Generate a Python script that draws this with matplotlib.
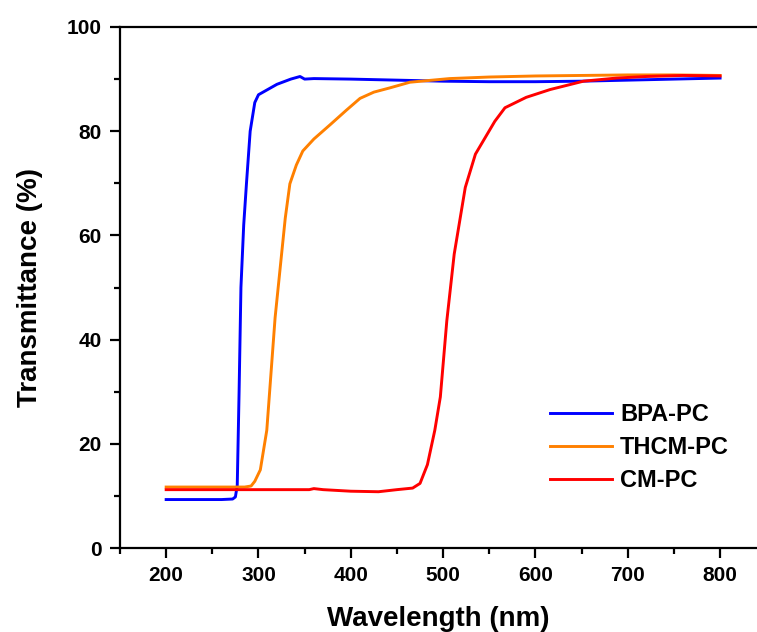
import matplotlib
matplotlib.use('Agg')
import matplotlib.pyplot as plt
from matplotlib.ticker import MultipleLocator

plt.rcParams['font.family'] = ['Liberation Sans', 'DejaVu Sans']
plt.rcParams['font.weight'] = 'bold'
plt.rcParams['axes.labelweight'] = 'bold'

# ---- data ----
bpa_wl = [200, 230, 260, 272, 275, 277, 279, 281, 284, 287, 291, 296, 300, 310, 320,
          335, 345, 350, 360, 400, 450, 500, 550, 600, 650, 700, 750, 800]
bpa_t = [9.3, 9.3, 9.3, 9.4, 9.8, 12.0, 30.0, 50.0, 62.0, 70.0, 80.0, 85.5, 87.0, 88.0, 89.0,
         90.0, 90.5, 90.0, 90.1, 90.0, 89.8, 89.6, 89.5, 89.5, 89.6, 89.8, 90.0, 90.2]

thcm_wl = [200, 250, 285, 292, 296, 302, 309, 318, 329, 334, 341, 348, 360, 378, 395,
           410, 425, 442, 464, 507, 550, 600, 650, 700, 750, 800]
thcm_t = [11.7, 11.7, 11.7, 11.9, 12.8, 15.0, 22.6, 44.2, 63.3, 69.9, 73.5, 76.2, 78.5, 81.3, 84.0,
          86.3, 87.5, 88.3, 89.4, 90.1, 90.4, 90.6, 90.7, 90.8, 90.8, 90.7]

cm_wl = [200, 250, 300, 355, 360, 370, 400, 430, 450, 467, 475, 483, 491, 497, 504,
         512, 524, 535, 556, 567, 590, 616, 652, 688, 720, 760, 800]
cm_t = [11.2, 11.2, 11.2, 11.2, 11.4, 11.2, 10.9, 10.8, 11.2, 11.5, 12.4, 16.0, 22.6, 29.0, 43.6,
        56.4, 69.2, 75.6, 81.9, 84.5, 86.5, 88.0, 89.6, 90.2, 90.5, 90.7, 90.6]

labels = ['BPA-PC', 'THCM-PC', 'CM-PC']
colors = ['#0000FF', '#FF8000', '#FF0000']

fig = plt.figure(figsize=(7.57, 6.32), dpi=100)
ax = fig.add_axes([120 / 757, 84 / 632, 637 / 757, 521 / 632])

for wl, t, lab, c in zip([bpa_wl, thcm_wl, cm_wl], [bpa_t, thcm_t, cm_t], labels, colors):
    ax.plot(wl, t, color=c, lw=2.1, label=lab)

ax.set_xlim(150, 840)
ax.set_ylim(0, 100)
ax.xaxis.set_major_locator(MultipleLocator(100))
ax.xaxis.set_minor_locator(MultipleLocator(50))
ax.yaxis.set_major_locator(MultipleLocator(20))
ax.yaxis.set_minor_locator(MultipleLocator(10))
ax.set_xticks([200, 300, 400, 500, 600, 700, 800])

ax.spines['right'].set_visible(False)
for s in ['left', 'bottom', 'top']:
    ax.spines[s].set_linewidth(1.6)
ax.tick_params(which='both', direction='out', width=1.6, top=False, right=False)
ax.tick_params(which='major', length=7, labelsize=15, pad=6)
ax.tick_params(which='minor', length=4.5)

ax.set_xlabel('Wavelength (nm)', fontsize=20, labelpad=15)
ax.set_ylabel('Transmittance (%)', fontsize=20, labelpad=17)

ax.legend(loc='upper left', bbox_to_anchor=(550 / 757, 1 - 403 / 632),
          bbox_transform=fig.transFigure, frameon=False, fontsize=17,
          handlelength=2.63, handletextpad=0.34, labelspacing=0.42,
          borderpad=0, borderaxespad=0)

fig.savefig('out.png', dpi=100)
